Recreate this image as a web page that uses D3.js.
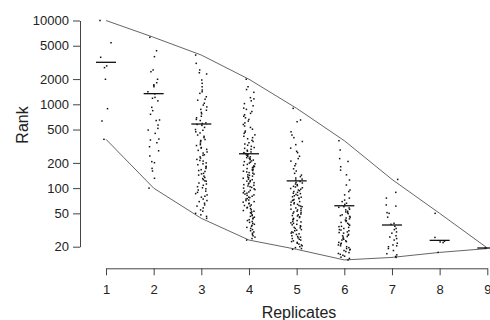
<!DOCTYPE html>
<html>
<head>
<meta charset="utf-8">
<script src="https://cdn.jsdelivr.net/npm/d3@7"></script>
<style>
  html, body { margin: 0; padding: 0; background: #fff; }
  svg { display: block; }
  text { font-family: "Liberation Sans", Arial, sans-serif; fill: #222; }
</style>
</head>
<body>
<div id="chart"></div>
<script>
const replicates = [1, 2, 3, 4, 5, 6, 7, 8, 9];
const yTicks = [20, 50, 100, 200, 500, 1000, 2000, 5000, 10000];

// rank of each gene, per number of replicates
const rep1 = [10000, 5430, 3640, 2870, 2740, 1990, 887, 632, 382];
const rep2 = [6300, 4360, 3700, 2570, 2450, 1990, 1810, 1700, 1690, 1620, 1410, 1330, 1210, 1180, 1100,
  920, 840, 760, 650, 640, 566, 516, 493, 450, 385, 375, 348, 312, 279, 242, 207, 201, 172, 160, 131, 100];
const rep3 = [3870, 3080, 2570, 2380, 2300, 1950, 1780, 1620, 1480, 1410, 1350, 1230, 1150, 1120, 1030,
  980, 930, 870, 850, 800, 770, 720, 690, 660, 640, 600, 590, 575, 560, 530, 500, 490, 470, 455, 430,
  415, 400, 380, 370, 362, 345, 330, 322, 305, 300, 290, 282, 270, 262, 250, 246, 236, 228, 220, 214,
  210, 200, 195, 190, 182, 178, 172, 166, 162, 158, 150, 148, 143, 139, 134, 130, 126, 122, 121, 115,
  112, 108, 104, 101, 98, 95, 92, 89, 86, 83, 80, 78, 74, 71, 69, 66, 63, 61, 58, 55, 53, 50, 48, 46, 43.6];
const rep4 = [1990, 1620, 1500, 1390, 1200, 1160, 1100, 1020, 960, 900, 870, 820, 780, 750, 720, 690,
  660, 630, 600, 575, 550, 530, 505, 480, 465, 450, 432, 415, 400, 388, 372, 360, 348, 336, 325, 315,
  305, 298, 290, 283, 276, 270, 265, 260, 258,
  252, 248, 245, 240, 236, 231, 228, 223, 219, 216, 211, 207, 204, 199, 195, 192, 188, 184, 181, 178,
  175, 171, 168, 165, 162, 159, 156, 153, 151, 147, 144, 142, 139, 136, 133, 131, 128, 126, 123, 121,
  119, 116, 114, 112, 110, 108, 106, 104, 102, 100, 98, 96, 94, 92, 90, 88, 87, 85, 83, 82, 80, 78,
  77, 75, 74, 72, 71, 69, 68, 66, 65, 63, 62, 61, 59, 58, 57, 55, 54, 53, 52, 51, 50, 48, 47, 46, 45,
  44, 43, 42, 41, 40, 39, 38, 37, 36, 35, 34, 33, 32, 31, 30, 29, 28, 27, 26, 25, 24];
const rep5 = [895, 650, 620, 470, 430, 400, 360, 330, 300, 275, 265, 240, 225, 210, 195, 185, 170, 160,
  150, 143, 137, 132, 128, 125,
  120, 117, 115, 112, 110, 107, 105, 103, 101, 99, 97, 95, 93, 91, 89, 87, 86, 84, 82, 81, 79, 78, 76,
  75, 73, 72, 71, 69, 68, 67, 65, 64, 63, 62, 61, 60, 58, 57, 56, 55, 54, 53, 52, 51, 50, 49, 48, 47,
  46.5, 45.5, 44.5, 43.5, 42.5, 42, 41, 40, 39.5, 38.5, 38, 37, 36.5, 35.5, 35, 34, 33.5, 33, 32, 31.5,
  31, 30, 29.5, 29, 28.5, 28, 27, 26.5, 26, 25.5, 25, 24.5, 24, 23.5, 23, 22.5, 22, 21.5, 21, 20.5, 20,
  19.5, 19, 18.6];
const rep6 = [368, 285, 225, 208, 180, 164, 144, 125, 109, 95, 91, 83, 76, 72, 69, 66, 64,
  60, 59, 58, 56, 55, 53, 52, 51, 49.6, 48, 47, 46, 45, 44, 43, 41.6, 41, 40, 39, 38, 37, 36, 35, 34.7,
  34, 33, 32, 31.6, 31, 30, 29.5, 29, 28, 27.5, 27, 26.5, 26, 25, 24.5, 24, 23.5, 23, 22.5, 22, 21.5,
  21, 20.5, 20, 19.5, 19, 18.6, 18.3, 18, 17.5, 17, 16.6, 16.2, 15.8, 15.4, 15, 14.5, 13.9];
const rep7 = [127, 89, 76, 63, 61, 51, 50, 45, 38, 37, 35, 33, 32, 30, 29, 27, 26.1, 25, 24, 22, 21,
  20.5, 20, 19, 18, 16.5, 16, 15.3, 14.9];
const rep8 = [50, 25.8, 23.2, 22.8, 22.4, 17.1];
const rep9 = [19.3, 19.0];

// horizontal bar per replicate
const centre = [3170, 1340, 582, 257, 122, 61.6, 36.3, 23.8, 19.3];

const ranks = [rep1, rep2, rep3, rep4, rep5, rep6, rep7, rep8, rep9];

const width = 490, height = 320;

const svg = d3.select('#chart')
  .append('svg')
  .attr('width', width)
  .attr('height', height)
  .attr('viewBox', `0 0 ${width} ${height}`);

const x = d3.scaleLinear().domain([1, 9]).range([106, 487.3]);
const y = d3.scaleLog().domain([20, 10000]).range([246.7, 20.5]);

// upper / lower envelope: max and min of each replicate
const upper = replicates.map((r, i) => [r, d3.max(ranks[i])]);
const lower = replicates.map((r, i) => [r, d3.min(ranks[i])]);

const line = d3.line().x(d => x(d[0])).y(d => y(d[1]));

svg.append('path').attr('d', line(upper))
  .attr('fill', 'none').attr('stroke', '#666').attr('stroke-width', 1);
svg.append('path').attr('d', line(lower))
  .attr('fill', 'none').attr('stroke', '#666').attr('stroke-width', 1);

// jittered points, spread by a fixed hash so the layout is stable
function spread(i, j) {
  const s = Math.sin(j * 12.9898 + i * 78.233) * 43758.5453;
  return s - Math.floor(s) - 0.5;
}

const pts = [];
ranks.forEach((vals, i) => {
  vals.forEach((v, j) => {
    pts.push({ r: replicates[i], v: v, jit: spread(i, j) });
  });
});

svg.append('g').selectAll('rect')
  .data(pts)
  .join('rect')
  .attr('x', d => x(d.r) + d.jit * 12 - 0.75)
  .attr('y', d => y(d.v) - 0.75)
  .attr('width', 1.5)
  .attr('height', 1.5)
  .attr('fill', '#111');

// centre bars
svg.append('g').selectAll('line')
  .data(centre)
  .join('line')
  .attr('x1', (d, i) => x(replicates[i]) - 10)
  .attr('x2', (d, i) => x(replicates[i]) + 10)
  .attr('y1', d => y(d))
  .attr('y2', d => y(d))
  .attr('stroke', '#111')
  .attr('stroke-width', 1.3);

// axes
const yAxis = svg.append('g')
  .attr('transform', 'translate(80,0)')
  .call(d3.axisLeft(y).tickValues(yTicks).tickFormat(d3.format('d')).tickSize(7).tickSizeOuter(0).tickPadding(4));

const xAxis = svg.append('g')
  .attr('transform', 'translate(0,268.3)')
  .call(d3.axisBottom(x).tickValues(replicates).tickFormat(d3.format('d')).tickSize(7).tickSizeOuter(0).tickPadding(9));

[yAxis, xAxis].forEach(g => {
  g.selectAll('path, line').attr('stroke', '#444');
  g.selectAll('text')
    .attr('fill', '#222')
    .style('font-size', '13px')
    .style('font-family', '"Liberation Sans", Arial, sans-serif');
});

svg.append('text')
  .attr('transform', 'translate(28,125) rotate(-90)')
  .attr('text-anchor', 'middle')
  .style('font-size', '16px')
  .text('Rank');

svg.append('text')
  .attr('x', 299)
  .attr('y', 318)
  .attr('text-anchor', 'middle')
  .style('font-size', '16px')
  .text('Replicates');
</script>
</body>
</html>
